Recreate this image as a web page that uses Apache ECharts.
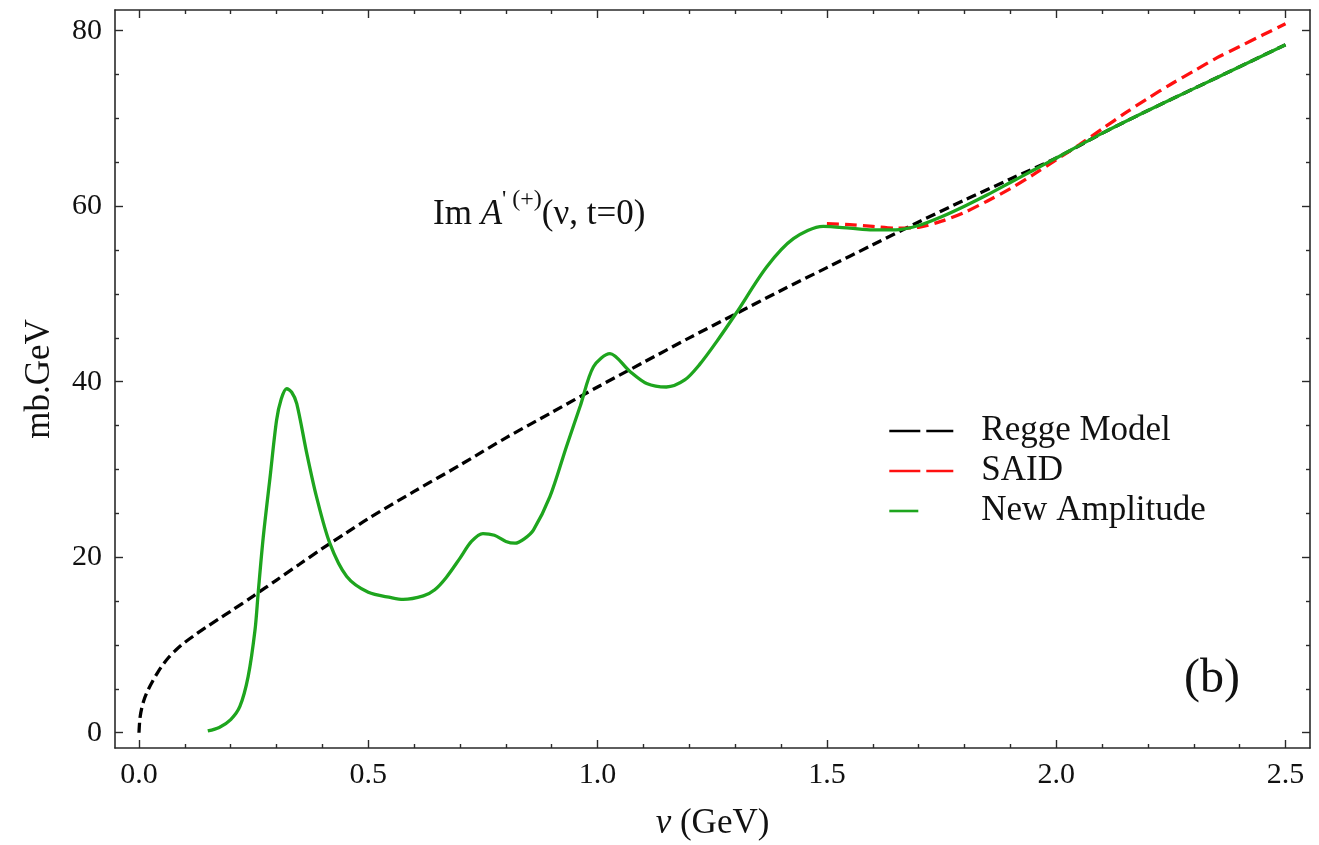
<!DOCTYPE html>
<html>
<head>
<meta charset="utf-8">
<script src="https://cdn.jsdelivr.net/npm/echarts@6/dist/echarts.min.js"></script>
<style>html,body{margin:0;padding:0;background:#fff}#c{width:1319px;height:845px}</style>
</head>
<body>
<div id="c"></div>
<script>
// ---- data ----
const reggeX = [0, 0.002, 0.006, 0.012, 0.02, 0.03, 0.04, 0.05, 0.065, 0.08, 0.1, 0.125, 0.15, 0.175, 0.2, 0.25, 0.3, 0.35, 0.4, 0.45, 0.5, 0.6, 0.7, 0.8, 0.9, 1.0, 1.1, 1.2, 1.3, 1.4, 1.5, 1.6, 1.7, 1.8, 1.9, 2.0, 2.1, 2.2, 2.3, 2.4, 2.5];
const reggeY = [0, 1.6, 2.8, 3.9, 4.9, 5.9, 6.8, 7.6, 8.6, 9.4, 10.3, 11.25, 12.15, 13.0, 13.85, 15.6, 17.4, 19.2, 21.0, 22.7, 24.4, 27.5, 30.5, 33.6, 36.5, 39.4, 42.2, 45.0, 47.7, 50.4, 53.0, 55.6, 58.2, 60.7, 63.1, 65.5, 68.3, 70.9, 73.4, 75.9, 78.4];

const saidX = [1.5, 1.55, 1.6, 1.65, 1.7, 1.75, 1.8, 1.85, 1.9, 1.95, 2.0, 2.05, 2.1, 2.15, 2.2, 2.25, 2.3, 2.35, 2.4, 2.45, 2.5];
const saidY = [58.0, 57.9, 57.7, 57.5, 57.6, 58.3, 59.3, 60.6, 62.0, 63.6, 65.3, 67.0, 68.8, 70.6, 72.3, 73.9, 75.4, 76.9, 78.2, 79.5, 80.8];

const newX = [0.15, 0.175, 0.2, 0.22, 0.238, 0.253, 0.26, 0.271, 0.286, 0.30, 0.31, 0.322, 0.333, 0.344, 0.366, 0.387, 0.416, 0.453, 0.5, 0.55, 0.576, 0.62, 0.645, 0.67, 0.7, 0.725, 0.75, 0.775, 0.8, 0.82, 0.84, 0.86, 0.896, 0.932, 0.962, 0.991, 1.027, 1.07, 1.107, 1.15, 1.19, 1.223, 1.26, 1.302, 1.369, 1.427, 1.492, 1.55, 1.6, 1.65, 1.7, 1.75, 1.8, 1.85, 1.9, 1.95, 2.0, 2.1, 2.2, 2.3, 2.4, 2.5];
const newY = [0.2, 0.6, 1.5, 3.0, 6.4, 11.7, 16.0, 22.3, 29.2, 35.6, 38.0, 39.2, 38.8, 37.5, 31.8, 26.9, 21.6, 17.8, 16.0, 15.4, 15.2, 15.6, 16.3, 17.7, 19.9, 21.8, 22.7, 22.5, 21.8, 21.6, 22.1, 23.1, 26.9, 32.6, 37.2, 41.7, 43.2, 41.2, 39.8, 39.4, 40.2, 42.0, 44.6, 47.8, 53.1, 56.3, 57.7, 57.5, 57.3, 57.3, 57.8, 58.8, 60.0, 61.3, 62.7, 64.1, 65.5, 68.3, 70.9, 73.4, 75.9, 78.4];

const xMajor = [0, 0.5, 1.0, 1.5, 2.0, 2.5];
const xMinor = [0.1, 0.2, 0.3, 0.4, 0.6, 0.7, 0.8, 0.9, 1.1, 1.2, 1.3, 1.4, 1.6, 1.7, 1.8, 1.9, 2.1, 2.2, 2.3, 2.4];
const yMajor = [0, 20, 40, 60, 80];
const yMinor = [5, 10, 15, 25, 30, 35, 45, 50, 55, 65, 70, 75];

const seriesNames = ['Regge Model', 'SAID', 'New Amplitude'];
// -------------------------------------

const pairs = (xs, ys) => xs.map((x, i) => [x, ys[i]]);
const FONT = 'Liberation Serif';
const AX = '#2a2a2a';
const X_MIN = -0.0523, X_MAX = 2.5534, Y_MIN = -1.74, Y_MAX = 82.36;

function xAx(pos, ticks, len, labels, line) {
  return {
    type: 'value', position: pos, min: X_MIN, max: X_MAX, gridIndex: 0,
    axisLine: { show: line, onZero: false, lineStyle: { color: AX, width: 1.6 } },
    axisTick: { show: true, inside: true, length: len, customValues: ticks, lineStyle: { color: AX, width: 1.4 } },
    axisLabel: labels ? { show: true, customValues: ticks, margin: 12, fontSize: 30, fontFamily: FONT, color: '#111', formatter: v => v.toFixed(1) } : { show: false },
    splitLine: { show: false }
  };
}
function yAx(pos, ticks, len, labels, line) {
  return {
    type: 'value', position: pos, min: Y_MIN, max: Y_MAX, gridIndex: 0,
    axisLine: { show: line, onZero: false, lineStyle: { color: AX, width: 1.6 } },
    axisTick: { show: true, inside: true, length: len, customValues: ticks, lineStyle: { color: AX, width: 1.4 } },
    axisLabel: labels ? { show: true, customValues: ticks, margin: 13, fontSize: 30, fontFamily: FONT, color: '#111', formatter: v => String(v) } : { show: false },
    splitLine: { show: false }
  };
}

const xAxes = [xAx('bottom', xMajor, 8, true, true), xAx('bottom', xMinor, 4, false, false), xAx('top', xMajor, 8, false, true), xAx('top', xMinor, 4, false, false)];
const yAxes = [yAx('left', yMajor, 8, true, true), yAx('left', yMinor, 4, false, false), yAx('right', yMajor, 8, false, true), yAx('right', yMinor, 4, false, false)];
xAxes[0].name = '{i|ν} (GeV)';
xAxes[0].nameLocation = 'middle';
xAxes[0].nameGap = 58;
xAxes[0].nameTextStyle = { fontSize: 35, fontFamily: FONT, color: '#111', rich: { i: { fontSize: 35, fontFamily: FONT, fontStyle: 'italic', color: '#111' } } };
yAxes[0].name = 'mb.GeV';
yAxes[0].nameLocation = 'middle';
yAxes[0].nameGap = 58;
yAxes[0].nameTextStyle = { fontSize: 35, fontFamily: FONT, color: '#111' };

const hideSym = { opacity: 0, borderWidth: 0, color: 'rgba(0,0,0,0)' };

const chart = echarts.init(document.getElementById('c'), null, { renderer: 'canvas' });
chart.setOption({
  backgroundColor: '#fff',
  animation: false,
  grid: { left: 115, right: 9, top: 10, bottom: 97, containLabel: false, outerBoundsMode: 'none' },
  xAxis: xAxes,
  yAxis: yAxes,
  legend: {
    orient: 'vertical', left: 883, top: 408, itemWidth: 95, itemHeight: 14, itemGap: 4,
    textStyle: { fontSize: 35, fontFamily: FONT, color: '#111', lineHeight: 36, padding: [0, 0, 0, -8] },
    data: [
      { name: seriesNames[0], itemStyle: hideSym, lineStyle: { type: [31, 6, 27, 31], width: 2.6 } },
      { name: seriesNames[1], itemStyle: hideSym, lineStyle: { type: [31, 6, 27, 31], width: 2.6 } },
      { name: seriesNames[2], itemStyle: hideSym, lineStyle: { type: [29, 200], width: 2.6 } }
    ]
  },
  graphic: [
    {
      type: 'text', left: 433, top: 188,
      style: {
        text: '{a|Im }{i|A}{s|\' (+)}{a|(ν, t=0)}',
        rich: {
          a: { fontSize: 35, fontFamily: FONT, fill: '#111', verticalAlign: 'bottom', lineHeight: 44 },
          i: { fontSize: 35, fontFamily: FONT, fontStyle: 'italic', fill: '#111', verticalAlign: 'bottom', lineHeight: 44 },
          s: { fontSize: 24, fontFamily: FONT, fill: '#111', verticalAlign: 'top', lineHeight: 44, padding: [0, 0, 16, 0] }
        }
      }
    },
    {
      type: 'text', left: 1184, top: 655,
      style: { text: '(b)', fontSize: 48, fontFamily: FONT, fill: '#111' }
    }
  ],
  series: [
    { name: seriesNames[0], type: 'line', xAxisIndex: 0, yAxisIndex: 0, data: pairs(reggeX, reggeY), showSymbol: false, symbol: 'none', smooth: 0.3, lineStyle: { color: '#000', width: 3.3, type: [10, 5] }, itemStyle: { color: '#000' }, z: 2 },
    { name: seriesNames[1], type: 'line', xAxisIndex: 0, yAxisIndex: 0, data: pairs(saidX, saidY), showSymbol: false, symbol: 'none', smooth: 0.3, lineStyle: { color: '#ff1010', width: 3.3, type: [12, 6] }, itemStyle: { color: '#ff1010' }, z: 3 },
    { name: seriesNames[2], type: 'line', xAxisIndex: 0, yAxisIndex: 0, data: pairs(newX, newY), showSymbol: false, symbol: 'none', smooth: 0.3, lineStyle: { color: '#1ea51e', width: 3.3 }, itemStyle: { color: '#1ea51e' }, z: 4 }
  ]
});
</script>
</body>
</html>
